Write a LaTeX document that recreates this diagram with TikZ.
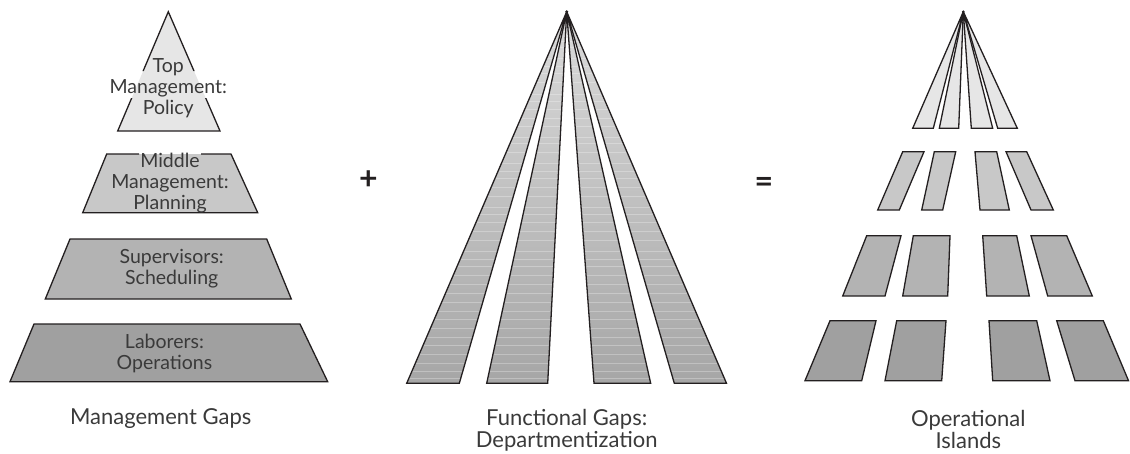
\documentclass[tikz,border=0pt]{standalone}
\usepackage{fontspec}
\setmainfont{Lato}
\definecolor{edge}{HTML}{231F20}
\definecolor{txt}{HTML}{3A3A3A}
\definecolor{gA}{HTML}{E6E6E6}
\definecolor{gB}{HTML}{C8C8C8}
\definecolor{gC}{HTML}{B3B3B3}
\definecolor{gD}{HTML}{A0A0A0}
\tikzset{
  shp/.style={draw=edge, line width=1.3pt, line join=miter},
  edg/.style={draw=edge, line width=1.3pt, line join=miter},
  lbl/.style={align=center, text=txt, font=\fontsize{19.5}{21}\selectfont, inner sep=0pt},
  captext/.style={align=center, text=txt, font=\fontsize{22}{22.3}\selectfont, inner sep=0pt},
  optext/.style={text=edge, font=\bfseries\fontsize{32}{32}\selectfont, inner sep=0pt}
}
\begin{document}
\begin{tikzpicture}[x=1pt,y=-1pt]
\useasboundingbox (0,0) rectangle (1130,453);

% ---------- left pyramid ----------
\fill[gA] (168.3,11.7) -- (220,131) -- (117.7,131) -- cycle;
\begin{scope}
  \clip (0,0) rectangle (340,71) (0,98) rectangle (340,145);
  \draw[edg] (168.3,11.7) -- (220,131) -- (117.7,131) -- cycle;
\end{scope}
\fill[gB] (106.7,154) -- (231,154) -- (257.7,212.7) -- (82.7,212.7) -- cycle;
\begin{scope}
  \clip (0,140) rectangle (139,230) (201,140) rectangle (340,230) (139,158) rectangle (201,230);
  \draw[edg] (106.7,154) -- (231,154) -- (257.7,212.7) -- (82.7,212.7) -- cycle;
\end{scope}
\filldraw[shp, fill=gC] (70,239) -- (266.7,239) -- (291.3,299) -- (45.3,299) -- cycle;
\filldraw[shp, fill=gD] (34,324) -- (300,324) -- (327.7,381.7) -- (10,381.7) -- cycle;

\node[lbl] (top) at (168.3,88) {Top\\Management:\\Policy};
\node[lbl] (mid) at (170,183) {Middle\\Management:\\Planning};
\node[lbl] (sup) at (171.7,269) {Supervisors:\\Scheduling};
\node[lbl] (lab) at (164.5,353) {Laborers:\\Operations};
\node[captext] (mg) at (160.7,419) {Management Gaps};

\node[optext] (plus) at (368.3,180) {+};
\node[optext] (eq) at (764,185) {=};

% ---------- middle fan ----------
\begin{scope}
  \clip (566.7,11.7) -- (406.7,383.3) -- (459.3,383.3) -- cycle
        (566.7,11.7) -- (486.7,383.3) -- (547.7,383.3) -- cycle
        (566.7,11.7) -- (594,383.3) -- (650.7,383.3) -- cycle
        (566.7,11.7) -- (674.3,383.3) -- (726.5,383.3) -- cycle;
  \shade[top color=gray!28, bottom color=gray!70] (400,8) rectangle (730,386);
  \foreach \yy in {24,31,41,47,58,66,73,82,94,101,109,118,126,137,143,152,163,171,178,187,196,207,214,222,231,240,251,259,266,275,284,293,302,311,319,328,337,345,354,363,371,378}
    \draw[white, opacity=0.28, line width=0.6pt] (400,\yy) -- (730,\yy);
\end{scope}
\draw[shp] (566.7,11.7) -- (406.7,383.3) -- (459.3,383.3) -- cycle;
\draw[shp] (566.7,11.7) -- (486.7,383.3) -- (547.7,383.3) -- cycle;
\draw[shp] (566.7,11.7) -- (594,383.3) -- (650.7,383.3) -- cycle;
\draw[shp] (566.7,11.7) -- (674.3,383.3) -- (726.5,383.3) -- cycle;
\fill[edge] (566.7,11.7) circle (1.6pt);
\node[captext] (fg) at (566.7,430.5) {Functional Gaps:\\Departmentization};

% ---------- right: operational islands ----------
\filldraw[shp, fill=gA] (963.3,11.7) -- (912.7,128.3) -- (933.3,128.3) -- cycle;
\filldraw[shp, fill=gA] (963.3,11.7) -- (939.3,128.3) -- (958.7,128.3) -- cycle;
\filldraw[shp, fill=gA] (963.3,11.7) -- (971.3,128.3) -- (992.7,128.3) -- cycle;
\filldraw[shp, fill=gA] (963.3,11.7) -- (997.7,128.3) -- (1017.3,128.3) -- cycle;
\fill[edge] (963.3,11.7) circle (1.4pt);

\filldraw[shp, fill=gB] (902.7,151.7) -- (924,151.7) -- (899.3,210) -- (877.7,210) -- cycle;
\filldraw[shp, fill=gB] (934.3,151.7) -- (955.7,151.7) -- (942.7,210) -- (921.7,210) -- cycle;
\filldraw[shp, fill=gB] (975,151.7) -- (996.7,151.7) -- (1009.3,210) -- (980,210) -- cycle;
\filldraw[shp, fill=gB] (1006,151.7) -- (1026.7,151.7) -- (1053.3,210) -- (1031,210) -- cycle;

\filldraw[shp, fill=gC] (866.7,235.7) -- (901,235.7) -- (885,296) -- (842.7,296) -- cycle;
\filldraw[shp, fill=gC] (913.3,235.7) -- (950,235.7) -- (947.7,296) -- (902.7,296) -- cycle;
\filldraw[shp, fill=gC] (982.7,235.7) -- (1016.7,235.7) -- (1029.3,296) -- (986.7,296) -- cycle;
\filldraw[shp, fill=gC] (1031,235.7) -- (1066.7,235.7) -- (1092.3,296) -- (1047.7,296) -- cycle;

\filldraw[shp, fill=gD] (830,320.7) -- (876,320.7) -- (861.7,380.7) -- (805,380.7) -- cycle;
\filldraw[shp, fill=gD] (896.7,320.7) -- (946,320.7) -- (941.7,380.7) -- (885,380.7) -- cycle;
\filldraw[shp, fill=gD] (989,320.7) -- (1036.7,320.7) -- (1050,380.7) -- (992.7,380.7) -- cycle;
\filldraw[shp, fill=gD] (1056.7,320.7) -- (1103.3,320.7) -- (1128.5,380.7) -- (1075,380.7) -- cycle;

\node[captext] (oi) at (968.3,429.5) {Operational\\Islands};
\end{tikzpicture}
\end{document}
